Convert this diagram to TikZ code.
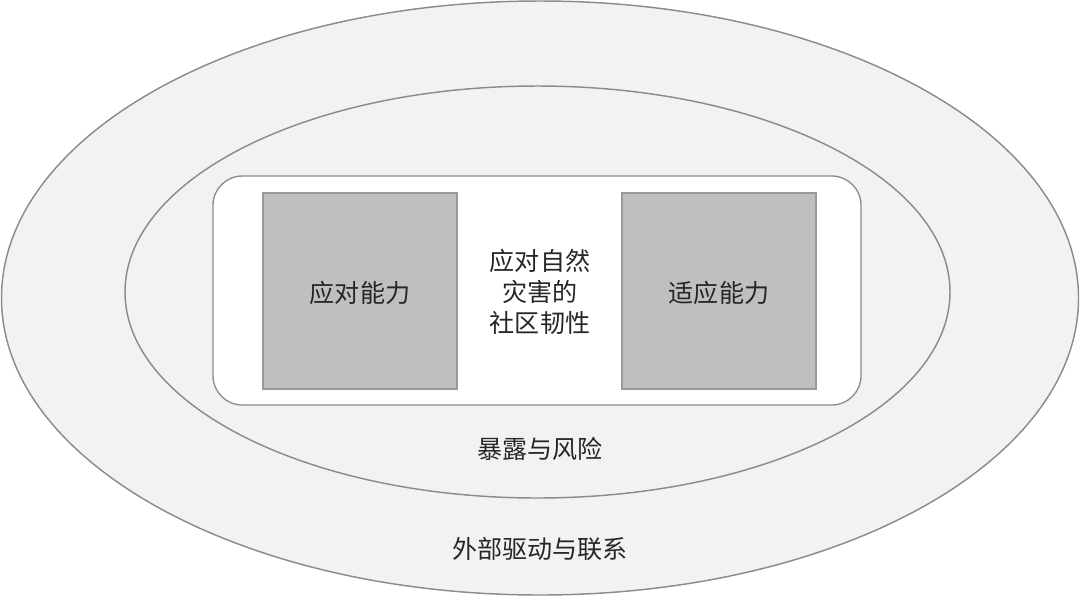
\documentclass[tikz,border=0pt]{standalone}
\usepackage{fontspec}
\usetikzlibrary{shapes.geometric}
\newfontfamily\cjk{Noto Sans CJK SC}
\begin{document}
\begin{tikzpicture}[x=0.75pt,y=-0.75pt,
  ring/.style={draw=black!45,fill=black!5,line width=1.1pt},
  panel/.style={draw=black!45,fill=white,line width=1pt,rounded corners=22pt},
  square/.style={draw=black!40,fill=black!25,line width=0.9pt},
  lbl/.style={font=\cjk\fontsize{18.8}{23}\selectfont,text=black!85,align=center}]
\useasboundingbox (0,0) rectangle (1080,597);
\node[ring,ellipse,minimum width=1077*0.75pt,minimum height=594*0.75pt,inner sep=0pt] (outer) at (540,298) {};
\node[ring,ellipse,minimum width=825*0.75pt,minimum height=412*0.75pt,inner sep=0pt] (inner) at (537.5,292) {};
\draw[panel] (213,176) rectangle (861,405);
\node[square,minimum width=194*0.75pt,minimum height=196*0.75pt,inner sep=0pt] (cope) at (360,291) {};
\node[square,minimum width=194*0.75pt,minimum height=196*0.75pt,inner sep=0pt] (adapt) at (719,291) {};
\node[lbl] (copet) at (360,293) {应对能力};
\node[lbl] (adaptt) at (719,293) {适应能力};
\node[lbl] (core) at (540,292) {应对自然\\灾害的\\社区韧性};
\node[lbl] (risk) at (540,449) {暴露与风险};
\node[lbl] (ext) at (540,549) {外部驱动与联系};
\end{tikzpicture}
\end{document}
